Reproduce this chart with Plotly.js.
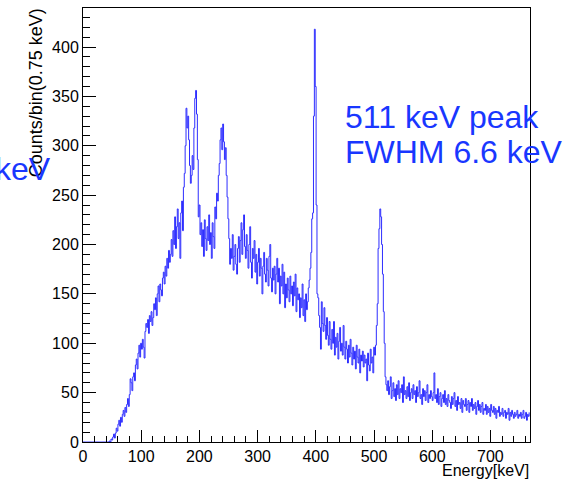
<!DOCTYPE html>
<html>
<head>
<meta charset="utf-8">
<script src="https://cdn.plot.ly/plotly-3.0.1.min.js"></script>
<style>html,body{margin:0;padding:0;background:#fff;}#chart{width:571px;height:482px;}</style>
</head>
<body>
<div id="chart"></div>
<script>
// Histogram, 1.5 keV per entry starting at 0 keV
const binStart = 0;
const binWidth = 1.5;
const counts = [
  0,0,0,0,0,0,0,0,0,0,0,0,0,0,0,0,0,0,0,0,
  0,0,0,0,0,0,0,0,0,0,1,0,3,2,5,8,4,9,14,11,
  18,22,16,25,20,28,32,26,35,30,38,44,36,48,64,60,52,66,70,62,
  78,84,74,90,98,86,100,94,104,96,85,112,120,116,124,110,128,122,132,118,
  126,140,134,146,128,150,158,142,160,154,148,166,172,160,178,168,186,176,194,182,
  190,205,188,214,200,228,196,218,236,206,222,186,232,244,214,258,272,300,338,318,
  330,306,280,262,270,290,276,318,348,356,332,286,228,240,210,222,198,215,188,225,
  206,194,218,204,230,200,212,186,222,208,196,238,226,252,244,270,282,306,318,296,
  322,304,286,298,270,248,226,206,180,196,186,210,174,188,200,180,170,196,208,182,
  204,222,190,215,230,198,186,210,194,176,200,218,182,166,196,186,204,172,190,160,
  182,196,168,186,176,150,178,192,170,162,186,174,158,188,200,166,152,176,164,178,
  150,170,186,162,176,140,168,158,180,150,172,136,160,146,166,154,142,168,150,158,
  138,162,148,170,132,156,144,150,126,146,136,160,128,144,122,150,134,142,156,164,
  176,192,226,232,330,418,360,240,150,146,128,116,94,142,120,112,136,118,104,126,
  108,98,122,104,94,114,100,122,88,106,96,110,84,102,116,92,100,88,118,96,
  84,102,94,80,98,86,104,90,78,96,84,92,74,98,86,80,94,70,88,82,
  92,76,88,80,84,62,90,78,72,94,80,86,70,96,88,98,118,140,196,216,
  236,228,200,170,132,100,66,58,52,62,48,56,66,44,52,60,46,54,42,58,
  48,62,44,54,50,58,40,66,48,52,44,56,46,60,42,50,54,44,58,48,
  52,40,56,46,50,62,44,48,38,54,46,52,42,50,58,40,48,44,52,46,
  42,50,70,44,48,40,54,38,46,50,36,44,48,40,52,38,44,36,48,42,
  40,34,46,38,44,50,36,42,32,46,38,40,34,44,30,42,38,36,44,32,
  38,42,30,40,36,44,32,38,34,40,28,36,42,32,38,30,36,40,28,34,
  32,38,28,36,30,34,26,38,32,30,36,28,34,24,32,30,36,26,30,28,
  34,26,30,32,24,30,28,34,22,30,26,32,28,24,30,26,28,32,24,28,
  26,30,24,28,32,24,26,30,22,28,26,30
];
const energies = counts.map((_, i) => binStart + i * binWidth);

const xTitle = "Energy[keV]";
const yTitle = "Counts/bin(0.75 keV)";
const noteLine1 = "511 keV peak";
const noteLine2 = "FWHM 6.6 keV";
const noteLeft = "keV";

const blue = "rgb(25,55,255)";

const trace = {
  x: energies,
  y: counts,
  type: "scatter",
  mode: "lines",
  line: {shape: "hv", color: "rgb(45,45,255)", width: 1},
  hoverinfo: "x+y"
};

const axisFont = {family: "Liberation Sans, Arial, sans-serif", size: 16, color: "#000"};

const layout = {
  width: 571, height: 482,
  margin: {l: 83, r: 41, t: 8, b: 40, pad: 0},
  paper_bgcolor: "#fff", plot_bgcolor: "#fff",
  showlegend: false,
  xaxis: {
    range: [0, 768], dtick: 100, tick0: 0,
    ticks: "inside", ticklen: 12, tickcolor: "#000", tickwidth: 1,
    minor: {dtick: 20, ticks: "inside", ticklen: 6, tickcolor: "#000", tickwidth: 1},
    showline: true, linecolor: "#000", linewidth: 1, mirror: true,
    showgrid: false, zeroline: false,
    tickfont: axisFont
  },
  yaxis: {
    range: [0, 439.5], dtick: 50, tick0: 0,
    ticks: "inside", ticklen: 13, tickcolor: "#000", tickwidth: 1,
    minor: {dtick: 10, ticks: "inside", ticklen: 7, tickcolor: "#000", tickwidth: 1},
    showline: true, linecolor: "#000", linewidth: 1, mirror: true,
    showgrid: false, zeroline: false,
    tickfont: axisFont
  },
  annotations: [
    {text: yTitle, xref: "paper", yref: "paper", x: -0.105, y: 1.003, xanchor: "center", yanchor: "top",
     textangle: -90, showarrow: false, font: {family: "Liberation Sans, Arial, sans-serif", size: 18, color: "#000"}},
    {text: xTitle, xref: "paper", yref: "paper", x: 1, y: -0.066, xanchor: "right", yanchor: "middle",
     showarrow: false, borderpad: 0, font: {family: "Liberation Sans, Arial, sans-serif", size: 16, color: "#000"}},
    {text: noteLine1, xref: "paper", yref: "paper", x: 0.582, y: 0.749, xanchor: "left", yanchor: "middle",
     showarrow: false, font: {family: "Liberation Sans, Arial, sans-serif", size: 32, color: blue}},
    {text: noteLine2, xref: "paper", yref: "paper", x: 0.582, y: 0.668, xanchor: "left", yanchor: "middle",
     showarrow: false, font: {family: "Liberation Sans, Arial, sans-serif", size: 32, color: blue}},
    {text: noteLeft, xref: "paper", yref: "paper", x: -0.066, y: 0.628, xanchor: "right", yanchor: "middle",
     showarrow: false, font: {family: "Liberation Sans, Arial, sans-serif", size: 32, color: blue}}
  ]
};

Plotly.newPlot("chart", [trace], layout, {displayModeBar: false, staticPlot: true});
</script>
</body>
</html>
